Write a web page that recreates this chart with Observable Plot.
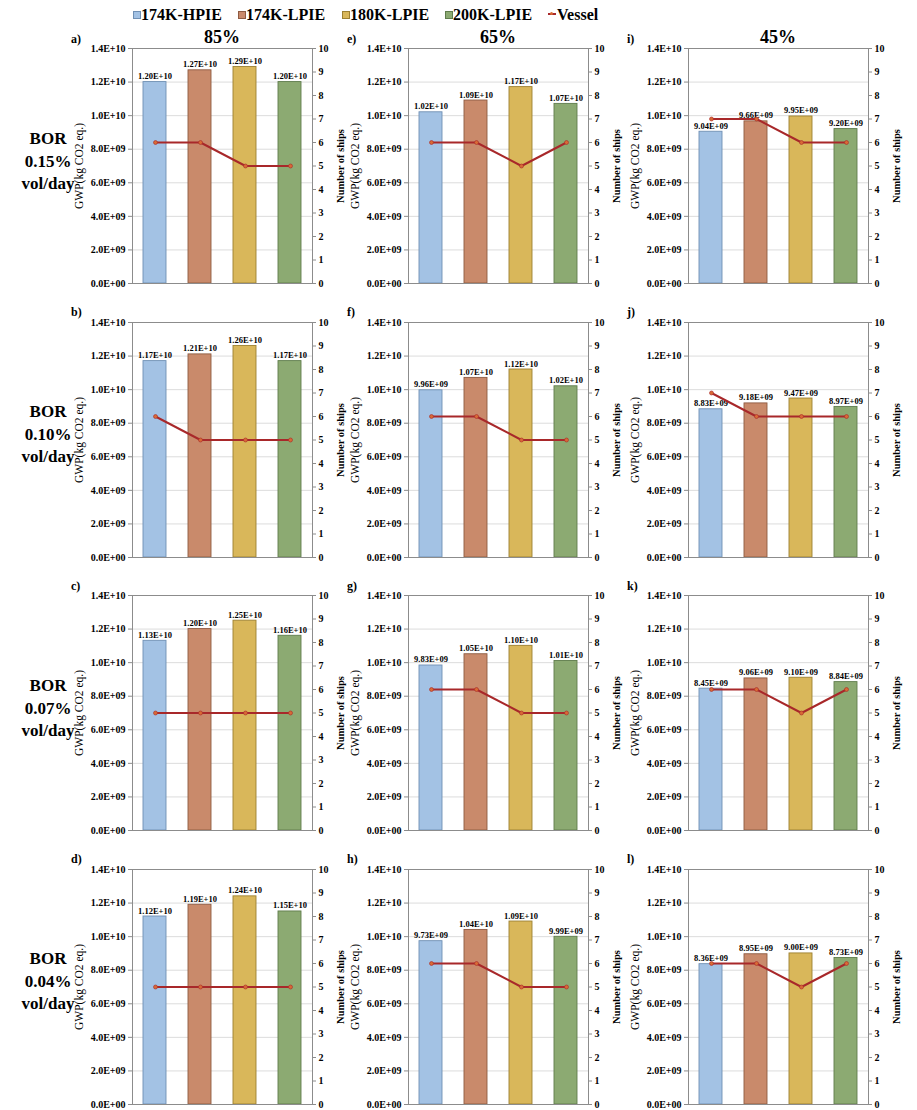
<!DOCTYPE html>
<html>
<head>
<meta charset="utf-8">
<script src="https://cdn.jsdelivr.net/npm/d3@7"></script>
<script src="https://cdn.jsdelivr.net/npm/@observablehq/plot@0.6"></script>
<style>
  html, body { margin: 0; padding: 0; background: #fff; }
  #root { position: relative; width: 917px; height: 1110px; overflow: hidden; font-family: "Liberation Serif", "Tinos", "Times New Roman", "DejaVu Serif", serif; color: #000; }
  .abs { position: absolute; white-space: nowrap; font-weight: bold; }
  .panel { position: absolute; }
  .panel svg { overflow: visible; font-family: "Liberation Serif", "Tinos", "Times New Roman", "DejaVu Serif", serif !important; }
  .panel svg text { font-family: "Liberation Serif", "Tinos", "Times New Roman", "DejaVu Serif", serif; }
  g[aria-label="y-axis label"] text { font-size: 11.5px; }
  .bars g[aria-label="y-axis label"] text { font-weight: normal; }
  .line g[aria-label="y-axis label"] text { font-weight: bold; font-size: 10.5px; }
</style>
</head>
<body>
<div id="root"></div>
<script>
// ---------- data ----------
const categories = ["174K-HPIE", "174K-LPIE", "180K-LPIE", "200K-LPIE"];
const loadLabels = ["85%", "65%", "45%"];
const borLabels = ["0.15%", "0.10%", "0.07%", "0.04%"];
const panelLetters = [["a)", "e)", "i)"], ["b)", "f)", "j)"], ["c)", "g)", "k)"], ["d)", "h)", "l)"]];
const gwpTicks = [0, 2e9, 4e9, 6e9, 8e9, 1e10, 1.2e10, 1.4e10];
const shipTicks = [0, 1, 2, 3, 4, 5, 6, 7, 8, 9, 10];

// BOR 0.15 %/day
const gwpA = [1.20e10, 1.27e10, 1.29e10, 1.20e10]; const shipsA = [6, 6, 5, 5];
const gwpE = [1.02e10, 1.09e10, 1.17e10, 1.07e10]; const shipsE = [6, 6, 5, 6];
const gwpI = [9.04e9, 9.66e9, 9.95e9, 9.20e9];     const shipsI = [7, 7, 6, 6];
// BOR 0.10 %/day
const gwpB = [1.17e10, 1.21e10, 1.26e10, 1.17e10]; const shipsB = [6, 5, 5, 5];
const gwpF = [9.96e9, 1.07e10, 1.12e10, 1.02e10];  const shipsF = [6, 6, 5, 5];
const gwpJ = [8.83e9, 9.18e9, 9.47e9, 8.97e9];     const shipsJ = [7, 6, 6, 6];
// BOR 0.07 %/day
const gwpC = [1.13e10, 1.20e10, 1.25e10, 1.16e10]; const shipsC = [5, 5, 5, 5];
const gwpG = [9.83e9, 1.05e10, 1.10e10, 1.01e10];  const shipsG = [6, 6, 5, 5];
const gwpK = [8.45e9, 9.06e9, 9.10e9, 8.84e9];     const shipsK = [6, 6, 5, 6];
// BOR 0.04 %/day
const gwpD = [1.12e10, 1.19e10, 1.24e10, 1.15e10]; const shipsD = [5, 5, 5, 5];
const gwpH = [9.73e9, 1.04e10, 1.09e10, 9.99e9];   const shipsH = [6, 6, 5, 5];
const gwpL = [8.36e9, 8.95e9, 9.00e9, 8.73e9];     const shipsL = [6, 6, 5, 6];

const gwpGrid = [[gwpA, gwpE, gwpI], [gwpB, gwpF, gwpJ], [gwpC, gwpG, gwpK], [gwpD, gwpH, gwpL]];
const shipsGrid = [[shipsA, shipsE, shipsI], [shipsB, shipsF, shipsJ], [shipsC, shipsG, shipsK], [shipsD, shipsH, shipsL]];

// ---------- style ----------
const barFill = ["#a3c2e4", "#c98a6b", "#d9b75a", "#8caa72"];
const barStroke = ["#7090b4", "#8e5b42", "#9c8032", "#5f7c4c"];
const lineColor = "#a8282a";
const dotColor = "#d86a35";
const axisColor = "#8c8c8c";
const FONT = "'Liberation Serif', 'Tinos', 'Times New Roman', 'DejaVu Serif', serif";

const plotLefts = [132, 408, 688];
const plotTops = [48, 321.5, 595, 868.5];
const PW = 180, PH = 235;
const ML = 72, MR = 42, MT = 14, MB = 6;

function fmtExp(v, d) {
  return v.toExponential(d).toUpperCase().replace(/E([+-])(\d)$/, "E$10$2");
}

const root = document.getElementById("root");

function addText(txt, x, y, size, anchor = "left") {
  const el = document.createElement("div");
  el.className = "abs";
  el.textContent = txt;
  el.style.fontSize = size + "px";
  el.style.top = (y - size * 0.6) + "px";
  el.style.lineHeight = (size * 1.2) + "px";
  el.style.left = x + "px";
  if (anchor === "center") el.style.transform = "translateX(-50%)";
  root.appendChild(el);
  return el;
}

const xScale = { domain: categories, paddingInner: 0.49, paddingOuter: 0.245, axis: null };
const common = {
  width: ML + PW + MR, height: MT + PH + MB,
  marginLeft: ML, marginRight: MR, marginTop: MT, marginBottom: MB,
  style: { background: "transparent", overflow: "visible", fontFamily: FONT, color: "#000" }
};

function barsPlot(vals) {
  const data = categories.map((c, i) => ({ cat: c, v: vals[i] }));
  return Plot.plot({
    ...common,
    x: xScale,
    y: { domain: [0, 1.4e10] },
    marks: [
      Plot.gridY(gwpTicks.slice(1, -1), { stroke: "#dcdcdc", strokeOpacity: 1 }),
      ...categories.map((c, i) => Plot.barY([data[i]], { x: "cat", y: "v", fill: barFill[i], stroke: barStroke[i], strokeWidth: 0.9 })),
      Plot.frame({ stroke: axisColor }),
      Plot.axisY(gwpTicks, {
        tickFormat: d => fmtExp(d, 1), tickSize: 4, tickPadding: 3, stroke: axisColor,
        fontSize: 10, fontWeight: "bold", fill: "#000",
        label: "GWP(kg CO2 eq.)", labelAnchor: "center", labelOffset: 58, labelArrow: "none"
      }),
      Plot.text(data, { x: "cat", y: "v", text: d => fmtExp(d.v, 2), dy: -3, lineAnchor: "bottom", fontSize: 8.5, fontWeight: "bold", fill: "#000" })
    ]
  });
}

function linePlot(vals) {
  const data = categories.map((c, i) => ({ cat: c, n: vals[i] }));
  return Plot.plot({
    ...common,
    x: xScale,
    y: { domain: [0, 10] },
    marks: [
      Plot.axisY(shipTicks, {
        anchor: "right", tickFormat: d => String(d), tickSize: 3, tickPadding: 3, stroke: axisColor,
        fontSize: 10, fontWeight: "bold", fill: "#000",
        label: "Number of ships", labelAnchor: "center", labelOffset: 31, labelArrow: "none"
      }),
      Plot.line(data, { x: "cat", y: "n", stroke: lineColor, strokeWidth: 2 }),
      Plot.dot(data, { x: "cat", y: "n", r: 2, fill: dotColor, stroke: lineColor, strokeWidth: 0.6 })
    ]
  });
}

for (let r = 0; r < 4; r++) {
  for (let c = 0; c < 3; c++) {
    const left = plotLefts[c] - ML, top = plotTops[r] - MT;
    const b = document.createElement("div");
    b.className = "panel bars"; b.style.left = left + "px"; b.style.top = top + "px";
    b.appendChild(barsPlot(gwpGrid[r][c]));
    root.appendChild(b);
    const l = document.createElement("div");
    l.className = "panel line"; l.style.left = left + "px"; l.style.top = top + "px";
    l.appendChild(linePlot(shipsGrid[r][c]));
    root.appendChild(l);
    addText(panelLetters[r][c], plotLefts[c] - 61, plotTops[r] - 9, 12);
  }
  const cx = 48, base = plotTops[r];
  addText("BOR", cx, base + 91, 17, "center");
  addText(borLabels[r], cx, base + 114, 17, "center");
  addText("vol/day", cx, base + 136, 17, "center");
}

// column headers
loadLabels.forEach((t, c) => addText(t, plotLefts[c] + PW / 2, 38, 18, "center"));

// legend
const legendX = [133, 238, 342, 445];
categories.forEach((cat, i) => {
  const sq = document.createElement("div");
  sq.style.cssText = `position:absolute;left:${legendX[i]}px;top:11px;width:6px;height:6px;background:${barFill[i]};border:0.5px solid ${barStroke[i]};`;
  root.appendChild(sq);
  addText(cat, legendX[i] + 8, 14.5, 16);
});
const vl = document.createElement("div");
vl.style.cssText = `position:absolute;left:548px;top:13px;width:8px;height:2px;background:${lineColor};`;
root.appendChild(vl);
const vd = document.createElement("div");
vd.style.cssText = `position:absolute;left:550px;top:12px;width:3px;height:3px;border-radius:50%;background:${dotColor};`;
root.appendChild(vd);
addText("Vessel", 557, 14.5, 16);
</script>
</body>
</html>
